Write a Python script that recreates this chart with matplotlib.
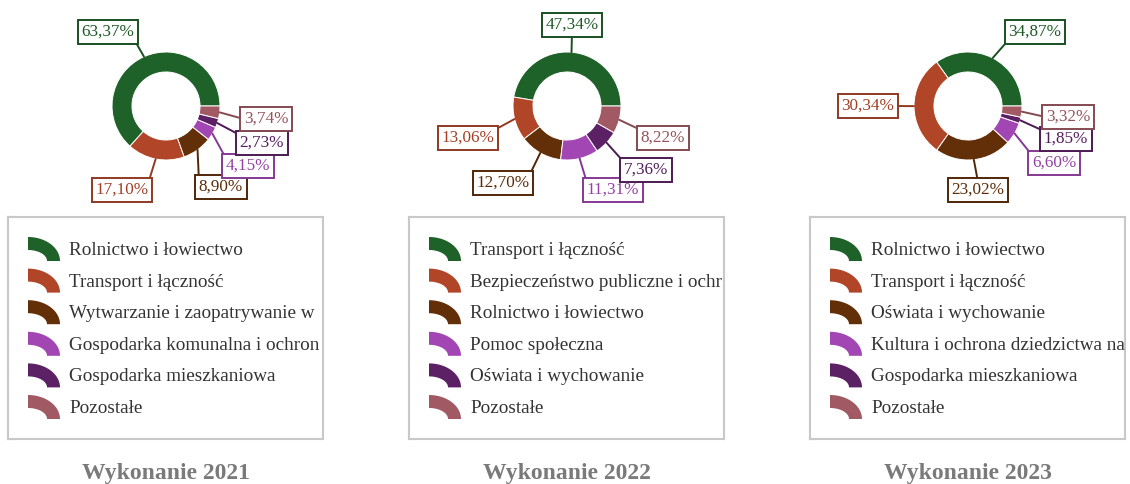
import numpy as np
import matplotlib
matplotlib.use("Agg")
import matplotlib.pyplot as plt
from matplotlib.patches import Polygon
from matplotlib.colors import to_rgb

plt.rcParams['font.family'] = ['Liberation Serif', 'DejaVu Serif']

# canvas size in pixels
W, H = 1130, 484

# slice colours, same order for every year
colors = ['#1f6229', '#b04527', '#622f08', '#a146b2', '#5b2164', '#a15a63']

years = ['2021', '2022', '2023']

# long names are cut where the legend box ends
cats_2021 = ['Rolnictwo i łowiectwo', 'Transport i łączność',
             'Wytwarzanie i zaopatrywanie w',
             'Gospodarka komunalna i ochron',
             'Gospodarka mieszkaniowa', 'Pozostałe']
vals_2021 = [63.37, 17.10, 8.90, 4.15, 2.73, 3.74]

cats_2022 = ['Transport i łączność',
             'Bezpieczeństwo publiczne i ochr',
             'Rolnictwo i łowiectwo', 'Pomoc społeczna',
             'Oświata i wychowanie', 'Pozostałe']
vals_2022 = [47.34, 13.06, 12.70, 11.31, 7.36, 8.22]

cats_2023 = ['Rolnictwo i łowiectwo', 'Transport i łączność',
             'Oświata i wychowanie',
             'Kultura i ochrona dziedzictwa na',
             'Gospodarka mieszkaniowa', 'Pozostałe']
vals_2023 = [34.87, 30.34, 23.02, 6.60, 1.85, 3.32]

all_cats = [cats_2021, cats_2022, cats_2023]
all_vals = [vals_2021, vals_2022, vals_2023]

# label box centres relative to the donut centre (px, y pointing down)
label_pos = [
    [(-58, -74), (-44, 84), (55, 81), (82, 60), (96, 37), (100, 13)],
    [(5, -81), (-99, 32), (-64, 77), (46, 84), (79, 64), (96, 32)],
    [(67, -74), (-100, 0), (10, 84), (86, 57), (98, 33), (100, 11)],
]

R = 54.0          # outer radius in px
step = 401        # distance between panels
cy = 106


def px_axes(fig, x, y, w, h):
    return fig.add_axes([x / W, 1 - (y + h) / H, w / W, h / H])


def darker(c, f=0.82):
    r, g, b = to_rgb(c)
    return (r * f, g * f, b * f)


fig = plt.figure(figsize=(W / 100, H / 100), dpi=100)

for i, year in enumerate(years):
    cx = 166 + i * step
    vals = all_vals[i]

    # donut
    ax = px_axes(fig, cx - 150, cy - 105, 300, 210)
    wedges, _ = ax.pie(vals, colors=colors, startangle=0, counterclock=True,
                       radius=1, wedgeprops=dict(width=0.37, edgecolor='white',
                                                 linewidth=0.7))
    ax.set_xlim(-150 / R, 150 / R)
    ax.set_ylim(-105 / R, 105 / R)
    ax.axis('off')

    for w, v, c, (dx, dy) in zip(wedges, vals, colors, label_pos[i]):
        mid = np.deg2rad((w.theta1 + w.theta2) / 2)
        rx = 0 if dx > 20 else (1 if dx < -20 else 0.5)
        ry = 1 if dy > 20 else (0 if dy < -20 else 0.5)
        txt = f"{v:.2f}".replace('.', ',') + '%'
        ax.annotate(txt, xy=(np.cos(mid), np.sin(mid)),
                    xytext=(dx / R, -dy / R), ha='center', va='center',
                    fontsize=12.3, color=darker(c, 0.92),
                    bbox=dict(boxstyle='square,pad=0.22', fc='white',
                              ec=darker(c), lw=1.4),
                    arrowprops=dict(arrowstyle='-', color=darker(c), lw=1.4,
                                    relpos=(rx, ry), shrinkA=0, shrinkB=0),
                    annotation_clip=False)

    # legend box
    lw_, lh_ = 315, 222
    lax = px_axes(fig, 8 + i * step, 217, lw_, lh_)
    lax.set_xlim(0, lw_)
    lax.set_ylim(lh_, 0)
    lax.set_xticks([])
    lax.set_yticks([])
    for s in lax.spines.values():
        s.set_color('#c8c8c8')
        s.set_linewidth(1.5)

    t = np.linspace(0, np.pi / 2, 40)
    for k, (name, c) in enumerate(zip(all_cats[i], colors)):
        base = 38 + k * 31.6
        ox, oy = 20, base + 6
        outer = np.column_stack([ox + 32 * np.cos(t), oy - 24 * np.sin(t)])
        inner = np.column_stack([ox + 19 * np.cos(t), oy - 11 * np.sin(t)])[::-1]
        lax.add_patch(Polygon(np.vstack([outer, inner]), closed=True,
                              fc=c, ec='none'))
        lax.text(61, base, name, va='baseline', ha='left', fontsize=13.8,
                 color='#333333', clip_on=True)

    fig.text(cx / W, 1 - 479 / H, f'Wykonanie {year}', ha='center',
             va='baseline', fontsize=17, fontweight='bold', color='#7a7a7a')

fig.savefig('out.png', dpi=100)
